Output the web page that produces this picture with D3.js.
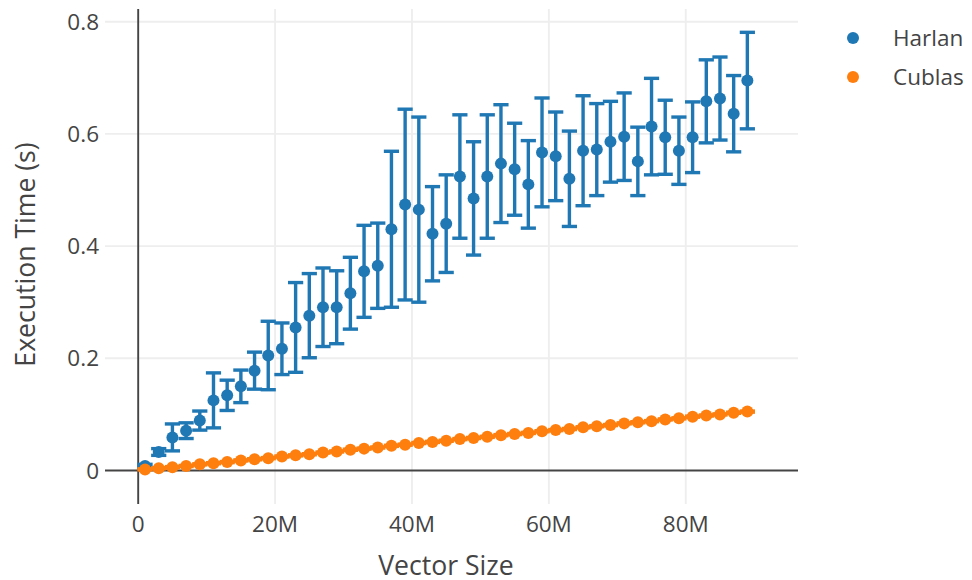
<!DOCTYPE html>
<html>
<head>
<meta charset="utf-8">
<script src="https://cdn.jsdelivr.net/npm/d3@7"></script>
<style>
  body { margin: 0; background: #fff; }
  svg text { font-family: "Open Sans", sans-serif; fill: #444; }
</style>
</head>
<body>
<div id="chart-area"></div>
<script>
// vector sizes (millions)
var sizes = [1, 3, 5, 7, 9, 11, 13, 15, 17, 19, 21, 23, 25, 27, 29, 31, 33, 35, 37, 39, 41, 43, 45,
     47, 49, 51, 53, 55, 57, 59, 61, 63, 65, 67, 69, 71, 73, 75, 77, 79, 81, 83, 85, 87, 89];

var harlanMean = [0.008, 0.033, 0.059, 0.071, 0.089, 0.125, 0.134, 0.150, 0.178, 0.205, 0.217, 0.255,
     0.276, 0.291, 0.291, 0.316, 0.355, 0.365, 0.430, 0.474, 0.465, 0.422, 0.440, 0.524, 0.485, 0.524,
     0.547, 0.537, 0.510, 0.567, 0.560, 0.520, 0.570, 0.572, 0.586, 0.595, 0.551, 0.613, 0.594, 0.570,
     0.594, 0.658, 0.663, 0.636, 0.695];

var harlanErr = [0.003, 0.006, 0.024, 0.014, 0.017, 0.049, 0.027, 0.029, 0.033, 0.061, 0.046, 0.080,
     0.075, 0.070, 0.065, 0.064, 0.082, 0.076, 0.139, 0.170, 0.165, 0.084, 0.087, 0.110, 0.101, 0.110,
     0.105, 0.082, 0.078, 0.097, 0.079, 0.085, 0.098, 0.082, 0.072, 0.078, 0.061, 0.086, 0.066, 0.060,
     0.063, 0.074, 0.074, 0.068, 0.086];

var cublasMean = [0.002, 0.004, 0.006, 0.008, 0.011, 0.013, 0.015, 0.018, 0.020, 0.022, 0.025, 0.027,
     0.029, 0.032, 0.034, 0.037, 0.039, 0.041, 0.044, 0.046, 0.049, 0.051, 0.053, 0.056, 0.058, 0.060,
     0.063, 0.065, 0.067, 0.070, 0.072, 0.074, 0.077, 0.079, 0.081, 0.084, 0.086, 0.088, 0.091, 0.093,
     0.096, 0.098, 0.100, 0.103, 0.105];

var cublasErr = [0.001, 0.001, 0.001, 0.001, 0.001, 0.001, 0.001, 0.001, 0.001, 0.001, 0.001, 0.001,
     0.001, 0.001, 0.001, 0.001, 0.001, 0.001, 0.001, 0.001, 0.001, 0.001, 0.001, 0.001, 0.001, 0.001,
     0.001, 0.001, 0.001, 0.001, 0.001, 0.001, 0.001, 0.001, 0.001, 0.001, 0.001, 0.001, 0.001, 0.001,
     0.001, 0.001, 0.001, 0.001, 0.001];

var xTicks = [0, 20, 40, 60, 80];
var yTicks = [0, 0.2, 0.4, 0.6, 0.8];
var seriesNames = ["Harlan", "Cublas"];
var colors = ["#1f77b4", "#ff7f0e"];

var harlan = sizes.map((s, i) => ({ x: s, y: harlanMean[i], e: harlanErr[i] }));
var cublas = sizes.map((s, i) => ({ x: s, y: cublasMean[i], e: cublasErr[i] }));

var width = 972, height = 580;
var plot = { left: 105, right: 798, top: 9, bottom: 504 };

var svg = d3.select("#chart-area").append("svg")
     .attr("width", width)
     .attr("height", height);

var x = d3.scaleLinear()
     .domain([-4.85, 96.4])
     .range([plot.left, plot.right]);

var y = d3.scaleLinear()
     .domain([-0.0597, 0.8226])
     .range([plot.bottom, plot.top]);

// grid
svg.append("g").selectAll("line")
     .data(xTicks.filter(d => d !== 0))
     .enter().append("line")
     .attr("x1", d => x(d)).attr("x2", d => x(d))
     .attr("y1", plot.top).attr("y2", plot.bottom)
     .attr("stroke", "#eee").attr("stroke-width", 1.9);

svg.append("g").selectAll("line")
     .data(yTicks.filter(d => d !== 0))
     .enter().append("line")
     .attr("x1", plot.left).attr("x2", plot.right)
     .attr("y1", d => y(d)).attr("y2", d => y(d))
     .attr("stroke", "#eee").attr("stroke-width", 1.9);

// zero lines
svg.append("line")
     .attr("x1", plot.left).attr("x2", plot.right)
     .attr("y1", y(0)).attr("y2", y(0))
     .attr("stroke", "#444").attr("stroke-width", 1.9);
svg.append("line")
     .attr("x1", x(0)).attr("x2", x(0))
     .attr("y1", plot.top).attr("y2", plot.bottom)
     .attr("stroke", "#444").attr("stroke-width", 1.9);

// tick labels
svg.append("g").selectAll("text")
     .data(xTicks)
     .enter().append("text")
     .attr("x", d => x(d))
     .attr("y", 532)
     .attr("text-anchor", "middle")
     .style("font-size", "22.5px")
     .text(d => d === 0 ? "0" : d + "M");

svg.append("g").selectAll("text")
     .data(yTicks)
     .enter().append("text")
     .attr("x", 99)
     .attr("y", d => y(d) + 8)
     .attr("text-anchor", "end")
     .style("font-size", "22.5px")
     .text(d => d === 0 ? "0" : d3.format(".1f")(d));

// axis titles
svg.append("text")
     .attr("x", 446)
     .attr("y", 575)
     .attr("text-anchor", "middle")
     .style("font-size", "26.6px")
     .text("Vector Size");

svg.append("text")
     .attr("transform", "translate(35," + ((plot.top + plot.bottom) / 2 - 2) + ") rotate(-90)")
     .attr("text-anchor", "middle")
     .style("font-size", "26.6px")
     .text("Execution Time (s)");

// series
function drawSeries(data, color) {
     var g = svg.append("g");
     var bars = data.filter(d => d.e > 0);

     g.selectAll(".stem").data(bars).enter().append("line")
          .attr("x1", d => x(d.x)).attr("x2", d => x(d.x))
          .attr("y1", d => y(d.y - d.e)).attr("y2", d => y(d.y + d.e))
          .attr("stroke", color).attr("stroke-width", 3.4);

     g.selectAll(".capTop").data(bars).enter().append("line")
          .attr("x1", d => x(d.x) - 7.6).attr("x2", d => x(d.x) + 7.6)
          .attr("y1", d => y(d.y + d.e)).attr("y2", d => y(d.y + d.e))
          .attr("stroke", color).attr("stroke-width", 3.4);

     g.selectAll(".capBot").data(bars).enter().append("line")
          .attr("x1", d => x(d.x) - 7.6).attr("x2", d => x(d.x) + 7.6)
          .attr("y1", d => y(d.y - d.e)).attr("y2", d => y(d.y - d.e))
          .attr("stroke", color).attr("stroke-width", 3.4);

     g.selectAll("circle").data(data).enter().append("circle")
          .attr("cx", d => x(d.x))
          .attr("cy", d => y(d.y))
          .attr("r", 6)
          .attr("fill", color);
}

drawSeries(harlan, colors[0]);
drawSeries(cublas, colors[1]);

// legend
var legend = svg.append("g").selectAll("g")
     .data(seriesNames)
     .enter().append("g")
     .attr("transform", (d, i) => "translate(853," + (38 + i * 39) + ")");

legend.append("circle")
     .attr("r", 6)
     .attr("fill", (d, i) => colors[i]);

legend.append("text")
     .attr("x", 40)
     .attr("y", 8)
     .style("font-size", "22.5px")
     .text(d => d);
</script>
</body>
</html>
